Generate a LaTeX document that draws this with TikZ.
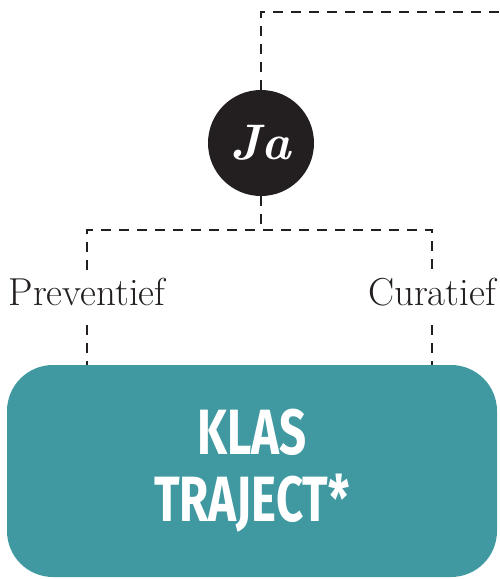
\documentclass[tikz,border=0pt]{standalone}
\usepackage{fontspec}
\newfontfamily\klasfont[FakeStretch=0.74]{Fira Sans}
\definecolor{teal}{RGB}{64,152,160}
\definecolor{ink}{RGB}{35,31,32}
\tikzset{
  dl/.style={draw=ink, line width=1.8pt, dash pattern=on 10pt off 8pt},
  lbl/.style={text=ink, font=\fontsize{39}{42}\selectfont, text height=25pt, text depth=10pt, inner ysep=10pt, inner xsep=0pt, anchor=base},
  jabox/.style={circle, fill=ink, minimum size=106pt, inner sep=0pt, text=white, font=\fontsize{50}{50}\selectfont\bfseries\itshape},
  klasbox/.style={rounded corners=46pt, fill=teal, minimum width=490pt, minimum height=212pt, inner sep=0pt, text=white, align=center, font=\klasfont\bfseries\fontsize{64}{67}\selectfont}
}
\begin{document}
\begin{tikzpicture}[x=1pt,y=-1pt]
\useasboundingbox (0,0) rectangle (500,579);
\node[jabox] (ja) at (261,143) {Ja};
\node[lbl] (prev) at (87,305) {Preventief};
\node[lbl] (cur) at (432,305) {Curatief};
\node[klasbox] (box) at (252,471) {KLAS\\TRAJECT*};
\coordinate (tr) at (500,12);
\coordinate (split) at (261,230);
\draw[dl] (ja.north) |- (tr);
\draw[dl] (ja.south) -- (split);
\draw[dl] (prev.north) |- (split) -| (cur.north);
\draw[dl] (prev.south) -- (prev.south |- box.north);
\draw[dl] (cur.south) -- (cur.south |- box.north);
\end{tikzpicture}
\end{document}
